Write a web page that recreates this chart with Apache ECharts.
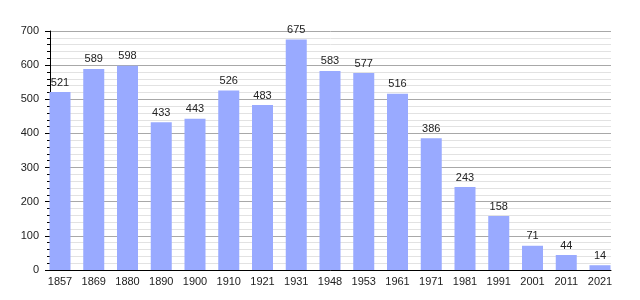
<!DOCTYPE html>
<html><head><meta charset="utf-8">
<script src="https://cdn.jsdelivr.net/npm/echarts@6/dist/echarts.min.js"></script>
<style>html,body{margin:0;padding:0;background:#fff}#c{width:640px;height:300px}</style>
</head><body><div id="c"></div>
<script>
const years = ['1857','1869','1880','1890','1900','1910','1921','1931','1948','1953','1961','1971','1981','1991','2001','2011','2021'];
const population = [521,589,598,433,443,526,483,675,583,577,516,386,243,158,71,44,14];
const yTicks = [0,100,200,300,400,500,600,700];

const chart = echarts.init(document.getElementById('c'), null, {renderer:'canvas'});
const font = 'Liberation Sans, Arial, sans-serif';
chart.setOption({
  animation:false,
  backgroundColor:'#fff',
  grid:[
    {left:50, right:29, top:31, bottom:30},
    {left:60, right:40, top:31, bottom:30}
  ],
  xAxis:[
    {gridIndex:0, type:'value', min:0, max:1, axisLabel:{show:false}, axisTick:{show:false}, splitLine:{show:false},
     axisLine:{show:true, lineStyle:{color:'#000', width:1}}},
    {gridIndex:1, type:'category', data:years, boundaryGap:false, axisLine:{show:false}, axisTick:{show:false},
     axisLabel:{color:'#222', fontSize:11, fontFamily:font, margin:6, interval:0}}
  ],
  yAxis:[
    {gridIndex:0, type:'value', min:yTicks[0], max:yTicks[yTicks.length-1], interval:100,
     axisLine:{show:true, lineStyle:{color:'#000'}},
     axisTick:{show:true, length:5, lineStyle:{color:'#000'}},
     minorTick:{show:true, splitNumber:5, length:3, lineStyle:{color:'#000'}},
     splitLine:{show:true, lineStyle:{color:'#a8a8a8', width:1}},
     minorSplitLine:{show:true, lineStyle:{color:'#e2e2e2', width:1}},
     axisLabel:{color:'#222', fontSize:11, fontFamily:font, margin:11}},
    {gridIndex:1, type:'value', min:0, max:700, show:false, splitLine:{show:false}}
  ],
  series:[{
    type:'bar', xAxisIndex:1, yAxisIndex:1, data:population, barWidth:21, clip:false,
    itemStyle:{color:'#99aaff'},
    label:{show:true, position:'top', distance:4, color:'#222', fontSize:11, fontFamily:font}
  }]
});
</script></body></html>
